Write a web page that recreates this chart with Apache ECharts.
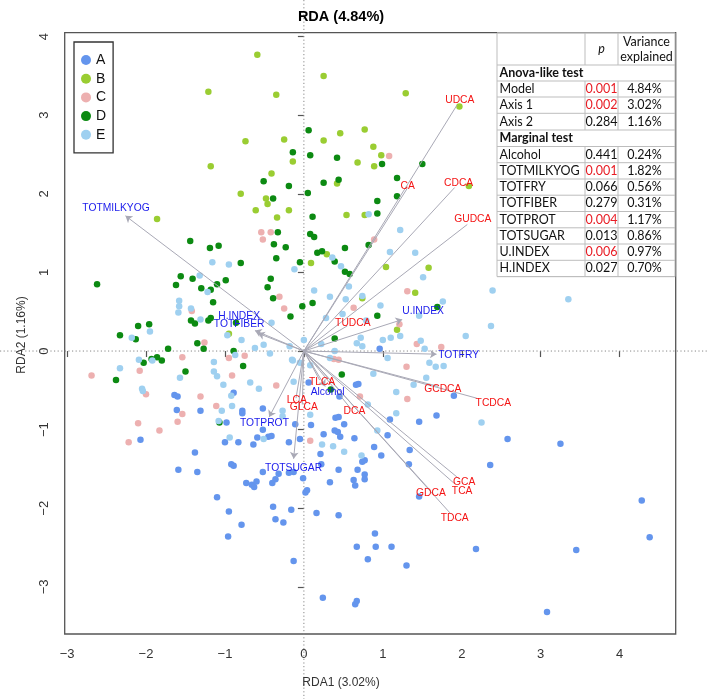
<!DOCTYPE html>
<html><head><meta charset="utf-8">
<script src="https://cdn.jsdelivr.net/npm/echarts@6/dist/echarts.min.js"></script>
<style>html,body{margin:0;padding:0;background:#fff}#c{width:709px;height:699px}</style>
</head><body><div id="c"></div>
<script>
// ---------- data ----------
const groupNames = ['A','B','C','D','E'];
const groupColors = ['#6495ED','#9ACD32','#EDB0B0','#0C8A12','#9FD0F0'];

const pointsA = [
[-1.64,-0.56],[-1.60,-0.58],[-0.89,-0.53],[-1.61,-0.75],[-1.31,-0.76],[-0.78,-0.76],[-0.78,-0.79],[-0.52,-0.73],[-0.98,-0.91],[-0.11,-0.93],
[-0.52,-1.00],[-0.59,-1.10],[-0.45,-1.09],[-0.41,-1.08],[-2.07,-1.13],[-1.00,-1.16],[-0.83,-1.16],[-0.64,-1.19],[-0.19,-1.16],[-0.05,-1.12],
[-1.38,-1.29],[-1.59,-1.51],[-1.35,-1.54],[-0.92,-1.44],[-0.89,-1.46],[-0.52,-1.54],[-0.32,-1.56],[-0.19,-1.55],[-0.13,-1.54],[-0.73,-1.68],
[-0.66,-1.70],[-0.63,-1.73],[-0.60,-1.66],[-0.40,-1.68],[-0.36,-1.63],[-1.10,-1.86],[-0.95,-2.04],[-0.39,-1.98],[-0.16,-2.02],[-0.36,-2.14],
[-0.26,-2.18],[-0.79,-2.21],[-0.96,-2.36],[-0.13,-2.67],
[0.21,-1.31],[-0.01,-1.62],[0.02,-1.80],[0.04,-1.77],[0.22,-1.44],[0.33,-1.67],[0.44,-1.51],[0.63,-1.64],[0.65,-1.71],[0.68,-1.51],
[0.74,-1.41],[0.77,-1.39],[0.77,-1.57],[0.77,-1.63],[0.98,-1.33],[1.33,-1.44],[1.46,-1.85],[2.36,-1.45],[0.16,-2.06],[0.44,-2.09],
[0.90,-2.32],[0.67,-2.49],[0.91,-2.49],[1.11,-2.49],[0.81,-2.65],[1.30,-2.73],[2.18,-2.52],[0.24,-3.14],[0.65,-3.22],[0.67,-3.18],
[3.25,-1.18],[4.28,-1.90],[4.38,-2.37],[3.45,-2.53],[3.08,-3.32],
[0.96,0.03],[0.66,-0.43],[0.69,-0.42],[1.90,-0.57],[0.45,-0.58],[0.40,-0.85],[0.44,-0.84],[0.51,-0.93],[1.09,-0.87],[1.46,-0.90],
[1.68,-0.82],[2.58,-1.12],[0.39,-1.01],[0.43,-1.03],[0.09,-0.94],[0.25,-1.06],[0.46,-1.09],[0.64,-1.11],[0.89,-1.22],[1.34,-1.26],
[1.06,-1.07],[0.06,-0.40]
];
const pointsB = [
[-0.59,3.77],[-1.21,3.30],[-0.35,3.26],[-0.74,2.67],[-0.25,2.69],[-0.14,2.41],[-1.18,2.35],[-0.41,2.26],[-0.80,2.00],[-0.48,1.94],
[-0.46,1.87],[-0.61,1.79],[-0.19,1.79],[-1.86,1.68],[-0.34,1.70],
[0.25,3.50],[1.29,3.28],[1.97,3.11],[0.46,2.77],[0.77,2.82],[0.25,2.68],[0.88,2.60],[0.98,2.49],[0.68,2.40],[0.89,2.35],
[0.42,2.13],[2.09,2.10],[0.54,1.73],[0.77,1.73],
[-0.95,0.22],
[0.29,1.23],[0.09,1.12],[0.74,0.67],[1.04,1.07],[1.58,1.06],[1.41,0.74],[1.18,0.27]
];
const pointsC = [
[-0.54,1.51],[-0.42,1.51],[-0.52,1.42],[1.08,2.48],[0.89,1.42],
[-0.31,0.69],[-1.42,0.51],[-0.25,0.54],[-1.26,0.11],[-1.54,-0.08],[-0.95,-0.09],[-0.75,-0.06],[-2.08,-0.25],[-2.69,-0.31],[-0.91,-0.31],
[-0.35,-0.44],[-2.00,-0.55],[-1.31,-0.58],[-1.11,-0.70],[-1.54,-0.80],[-1.60,-0.90],[-2.10,-0.92],[-1.83,-1.01],[-2.22,-1.16],
[0.63,0.55],[1.31,0.76],[1.21,0.34],[1.43,0.09],[1.74,0.05],[0.38,-0.10],[0.44,-0.11],[1.30,-0.20],[0.71,-0.58],[1.31,-0.61],[0.08,-1.14]
];
const pointsD = [
[-0.14,2.53],[-0.51,2.16],[-0.19,2.10],[-0.39,1.94],[-0.33,1.51],[-1.44,1.40],[-0.38,1.36],
[0.06,2.81],[0.08,2.49],[0.42,2.46],[0.99,2.38],[1.50,2.38],[1.18,2.20],[0.44,2.18],[0.25,2.14],[0.05,2.01],[1.18,1.97],[0.93,1.91],
[0.11,1.71],[0.93,1.75],[0.08,1.49],[0.13,1.45],
[-1.19,1.31],[-1.08,1.34],[-0.23,1.32],[-0.80,1.12],[-0.35,1.18],[-0.05,1.13],[-1.56,0.95],[-1.41,0.92],[-0.99,0.90],[-1.62,0.84],
[-1.10,0.85],[-1.30,0.80],[-1.18,0.78],[-0.42,0.92],[-0.46,0.81],[-2.62,0.85],[-0.39,0.67],[-1.15,0.62],[-0.02,0.57],[-0.17,0.44],
[-1.43,0.39],[-1.38,0.35],[-1.21,0.39],[-1.18,0.42],[-0.86,0.36],[-2.10,0.32],[-1.96,0.34],[-2.33,0.20],[-2.13,0.15],[-1.35,0.10],
[-1.72,0.03],[-1.27,0.03],[-0.89,0.00],[-1.93,-0.10],[-1.86,-0.08],[-1.80,-0.12],[-2.03,-0.15],[-0.77,-0.19],[-1.50,-0.26],[-2.38,-0.37],
[-1.07,-0.91],
[0.52,1.31],[0.82,1.35],[0.17,1.25],[0.23,1.27],[0.39,1.14],[0.52,1.01],[0.58,0.98],[1.69,0.56],[0.11,0.61],[0.93,0.45],
[0.39,0.16],[0.48,-0.30],[0.34,-0.49]
];
const pointsE = [
[0.82,1.74],[1.22,1.54],
[-1.16,1.13],[-0.95,1.10],[-0.12,1.04],[-1.32,0.96],[-1.22,0.75],[-1.58,0.64],[-1.58,0.57],[-1.59,0.49],[-1.43,0.54],[-1.31,0.40],
[-0.41,0.36],[-1.95,0.25],[-2.18,0.17],[-0.97,0.20],[-0.79,0.14],[-0.62,0.04],[-0.18,0.06],[-0.43,-0.03],[-1.92,-0.12],[-2.09,-0.11],
[-0.87,-0.05],[-1.14,-0.14],[-0.14,-0.12],[-2.33,-0.22],[-1.14,-0.26],[-1.10,-0.32],[-1.57,-0.34],[-0.68,-0.40],[-1.02,-0.43],[-0.57,-0.48],
[-2.05,-0.48],[-2.04,-0.51],[-0.92,-0.57],[-0.91,-0.70],[-1.04,-0.76],[-0.27,-0.76],[-0.27,-0.83],[-1.08,-0.89],[-0.51,-1.12],[-0.94,-1.10],
[0.36,1.19],[0.47,1.08],[0.57,0.82],[0.13,0.77],[0.33,0.69],[0.53,0.66],[0.74,0.70],[1.09,1.26],[1.41,1.25],[1.51,0.94],
[1.76,0.63],[2.39,0.77],[2.37,0.32],[0.28,0.42],[1.46,0.45],[0.72,0.17],[1.00,0.14],[1.10,0.17],[1.22,0.19],[2.05,0.19],
[1.48,0.13],[0.00,0.14],[0.67,0.10],[0.74,0.06],[0.22,0.09],[1.53,0.03],[0.39,0.00],[0.33,-0.09],[1.06,-0.09],[1.59,-0.15],
[1.67,-0.20],[1.77,-0.19],[0.88,-0.29],[1.55,-0.34],[1.39,-0.43],[1.17,-0.52],[0.81,-0.68],[1.17,-0.79],[0.93,-1.01],[2.25,-0.91],
[0.23,-1.19],[0.37,-1.21],[0.51,-1.28],[0.73,-1.33],[3.35,0.66],
[-0.15,-0.11],[-0.05,-0.15],[0.08,-0.18],[-0.13,-0.39],[0.08,-0.81],[0.97,0.58],[0.49,0.47],[0.79,0.39],[-0.51,0.08]
];

// bile acids (red labels, plain lines)
const bileNames  = ['UDCA','CA','CDCA','GUDCA','TUDCA','GCDCA','TCDCA','TLCA','LCA','GLCA','DCA','GCA','TCA','GDCA','TDCA'];
const bileTips   = [[1.94,3.13],[1.31,2.07],[1.91,2.08],[2.07,1.61],[0.55,0.32],[1.70,-0.45],[2.19,-0.60],[0.20,-0.37],[-0.10,-0.60],[-0.02,-0.68],[0.60,-0.74],[1.96,-1.62],[1.90,-1.68],[1.58,-1.75],[1.86,-2.07]];
const bileLabels = [[1.975,3.19],[1.315,2.10],[1.96,2.13],[2.14,1.68],[0.62,0.35],[1.76,-0.48],[2.40,-0.665],[0.23,-0.40],[-0.09,-0.63],[0.0,-0.71],[0.64,-0.77],[2.03,-1.67],[2.005,-1.78],[1.61,-1.81],[1.91,-2.13]];

// explanatory variables (blue labels, arrows)
const envNames  = ['TOTMILKYOG','U.INDEX','TOTFRY','H.INDEX','TOTFIBER','Alcohol','TOTPROT','TOTSUGAR'];
const envTips   = [[-2.26,1.72],[1.245,0.40],[1.68,-0.04],[-0.62,0.26],[-0.58,0.225],[0.27,-0.45],[-0.44,-0.84],[-0.13,-1.37]];
const envLabels = [[-2.38,1.82],[1.51,0.51],[1.96,-0.05],[-0.82,0.445],[-0.82,0.34],[0.30,-0.525],[-0.50,-0.92],[-0.13,-1.485]];

const xTicks = [-3,-2,-1,0,1,2,3,4];
const yTicks = [-3,-2,-1,0,1,2,3,4];

const tableHeader = ['', 'p', 'Variance', 'explained'];
const anovaTitle = 'Anova-like test';
const anovaRows = [['Model','0.001','4.84%'],['Axis 1','0.002','3.02%'],['Axis 2','0.284','1.16%']];
const marginalTitle = 'Marginal test';
const marginalRows = [['Alcohol','0.441','0.24%'],['TOTMILKYOG','0.001','1.82%'],['TOTFRY','0.066','0.56%'],['TOTFIBER','0.279','0.31%'],
  ['TOTPROT','0.004','1.17%'],['TOTSUGAR','0.013','0.86%'],['U.INDEX','0.006','0.97%'],['H.INDEX','0.027','0.70%']];

// ---------- chart ----------
const chart = echarts.init(document.getElementById('c'), null, {renderer:'canvas'});
const minus = v => (v < 0 ? '\u2212' + Math.abs(v) : String(v));
const FONT = '"Liberation Sans", Arial, sans-serif';

const series = [];
const groups = [pointsA, pointsB, pointsC, pointsD, pointsE];
groups.forEach((pts, i) => {
  series.push({
    name: groupNames[i], type: 'scatter', data: pts, symbolSize: 6.5, z: 3,
    itemStyle: {color: groupColors[i], opacity: 1}, silent: true
  });
});
series.push({
  type: 'lines', coordinateSystem: 'cartesian2d', z: 4, silent: true,
  data: bileTips.map(t => ({coords: [[0,0], t]})),
  lineStyle: {color: '#A9A9B6', width: 1, opacity: 1}, symbol: ['none','none']
});
series.push({
  type: 'lines', coordinateSystem: 'cartesian2d', z: 4, silent: true,
  data: envTips.map(t => ({coords: [[0,0], t]})),
  lineStyle: {color: '#A9A9B6', width: 1, opacity: 1}, symbol: ['none','arrow'], symbolSize: 6.5
});
const labelSeries = (pos, names, color) => ({
  type: 'scatter', z: 6, silent: true, symbol: 'circle', symbolSize: 0.5,
  itemStyle: {color: color, opacity: 1},
  data: pos.map((p,i) => ({value: p, name: names[i]})),
  label: {show: true, position: 'inside', formatter: '{b}', color: color, fontSize: 10.3, fontFamily: FONT,
          textBorderWidth: 0, textShadowBlur: 0, opacity: 1}
});
series.push(labelSeries(bileLabels, bileNames, '#F41414'));
series.push(labelSeries(envLabels, envNames, '#1A1AEB'));

const option = {
  animation: false,
  backgroundColor: '#fff',
  grid: {left: 64.7, top: 32.7, width: 611, height: 601.3, show: true, borderColor: '#555', borderWidth: 1.3, backgroundColor: '#fff'},
  xAxis: {
    type: 'value', min: -3.03, max: 4.71,
    axisLine: {show: false}, splitLine: {show: false},
    axisTick: {show: true, length: 6, customValues: xTicks, lineStyle: {color: '#555', width: 1.2}},
    axisLabel: {customValues: xTicks, margin: 14, fontSize: 13, color: '#333', fontFamily: FONT, formatter: minus}
  },
  yAxis: {
    type: 'value', min: -3.60, max: 4.05,
    axisLine: {show: false}, splitLine: {show: false},
    axisTick: {show: true, length: 6, customValues: yTicks, lineStyle: {color: '#555', width: 1.2}},
    axisLabel: {customValues: yTicks, margin: 14, fontSize: 13, color: '#333', fontFamily: FONT, rotate: 90, formatter: minus}
  },
  legend: {
    data: groupNames, orient: 'vertical', left: 74, top: 42, icon: 'circle',
    itemWidth: 10, itemHeight: 10, itemGap: 4.7, padding: [11, 7, 11, 7],
    borderColor: '#333', borderWidth: 1.3, backgroundColor: '#fff',
    textStyle: {fontSize: 14, color: '#111', fontFamily: FONT}, selectedMode: false
  },
  series: series
};
chart.setOption(option);

// ---------- overlays (zero lines, titles, table) ----------
const origin = chart.convertToPixel({gridIndex: 0}, [0, 0]);
const W = 709, H = 699;
const g = [];
g.push({type: 'line', z: 1, silent: true, shape: {x1: origin[0], y1: 0, x2: origin[0], y2: H},
  style: {stroke: '#888', lineWidth: 1, lineDash: [1.2, 2.4]}});
g.push({type: 'line', z: 1, silent: true, shape: {x1: 0, y1: origin[1], x2: W, y2: origin[1]},
  style: {stroke: '#888', lineWidth: 1, lineDash: [1.2, 2.4]}});
g.push({type: 'text', z: 20, x: 341, y: 17, style: {text: 'RDA (4.84%)', font: 'bold 14.5px ' + FONT, fill: '#000', textAlign: 'center', textVerticalAlign: 'middle'}});
g.push({type: 'text', z: 20, x: 341, y: 683, style: {text: 'RDA1 (3.02%)', font: '12px ' + FONT, fill: '#333', textAlign: 'center', textVerticalAlign: 'middle'}});
g.push({type: 'text', z: 20, x: 22, y: 335, rotation: Math.PI/2, style: {text: 'RDA2 (1.16%)', font: '12px ' + FONT, fill: '#333', textAlign: 'center', textVerticalAlign: 'middle'}});

// table
const TF = 'Lato, "Open Sans", sans-serif';
const cx = [497, 585, 618, 675];
const ry = [33, 65, 81, 97, 113.3, 130, 146.5, 162.7, 179, 195.2, 211.5, 227.8, 244, 260.3, 276.6];
const lineCol = '#BDBDBD';
g.push({type: 'rect', z: 10, silent: true, shape: {x: cx[0], y: ry[0], width: cx[3]-cx[0], height: ry[ry.length-1]-ry[0]}, style: {fill: '#fff', stroke: lineCol, lineWidth: 1}});
ry.forEach(y => g.push({type: 'line', z: 11, silent: true, shape: {x1: cx[0], y1: y, x2: cx[3], y2: y}, style: {stroke: lineCol, lineWidth: 1}}));
const sectionRows = [1, 5];
for (let r = 0; r < ry.length - 1; r++) {
  if (sectionRows.includes(r)) continue;
  [cx[1], cx[2]].forEach(x => g.push({type: 'line', z: 11, silent: true, shape: {x1: x, y1: ry[r], x2: x, y2: ry[r+1]}, style: {stroke: lineCol, lineWidth: 1}}));
}
const tText = (text, x, y, align, opts) => g.push({type: 'text', z: 12, silent: true, x: x, y: y,
  style: Object.assign({text: text, font: '12.5px ' + TF, fill: '#111', textAlign: align, textVerticalAlign: 'middle'}, opts || {})});
const midC2 = (cx[1]+cx[2])/2, midC3 = (cx[2]+cx[3])/2;
tText(tableHeader[1], midC2, (ry[0]+ry[1])/2, 'center', {font: 'italic 12.5px ' + TF});
tText(tableHeader[2], midC3, ry[0] + 8.5, 'center');
tText(tableHeader[3], midC3, ry[0] + 24, 'center');
tText(anovaTitle, cx[0] + 2.5, (ry[1]+ry[2])/2, 'left', {font: 'bold 12.5px ' + TF});
tText(marginalTitle, cx[0] + 2.5, (ry[5]+ry[6])/2, 'left', {font: 'bold 12.5px ' + TF});
const drawRow = (row, r) => {
  const yc = (ry[r] + ry[r+1]) / 2;
  tText(row[0], cx[0] + 2.5, yc, 'left');
  const sig = parseFloat(row[1]) < 0.01;
  tText(row[1], midC2, yc, 'center', {fill: sig ? '#E81C24' : '#111'});
  tText(row[2], midC3 - 2, yc, 'center');
};
anovaRows.forEach((row, i) => drawRow(row, 2 + i));
marginalRows.forEach((row, i) => drawRow(row, 6 + i));

chart.setOption({graphic: g});
</script>
</body></html>
